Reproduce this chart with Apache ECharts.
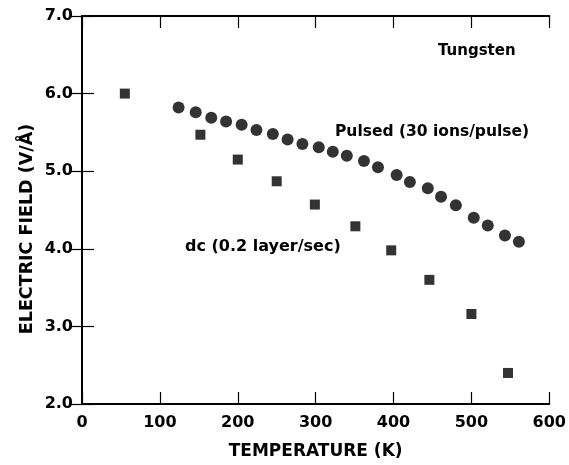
<!DOCTYPE html>
<html><head><meta charset="utf-8">
<script src="https://cdn.jsdelivr.net/npm/echarts@6/dist/echarts.min.js"></script>
<style>html,body{margin:0;padding:0;background:#fff;overflow:hidden}#c{width:569px;height:465px}</style>
</head><body><div id="c"></div>
<script>
const pulsedT = [124,146,166,185,205,224,245,264,283,304,322,340,362,380,404,421,444,461,480,503,521,543,561];
const pulsedE = [5.82,5.76,5.69,5.64,5.60,5.53,5.48,5.41,5.35,5.31,5.25,5.20,5.13,5.05,4.95,4.86,4.78,4.67,4.56,4.40,4.30,4.17,4.09];
const dcT = [55,152,200,250,299,351,397,446,500,547];
const dcE = [6.00,5.47,5.15,4.87,4.57,4.29,3.98,3.60,3.16,2.40];
const xTicks = [0,100,200,300,400,500,600];
const yTicks = ['2.0','3.0','4.0','5.0','6.0','7.0'];

const font = 'DejaVu Sans';
const ink = '#000';
const chart = echarts.init(document.getElementById('c'), null, {renderer:'canvas'});
const axLine = {show:true, lineStyle:{color:ink, width:2}};
const ticks = {show:true, inside:true, length:12, lineStyle:{color:ink, width:1.2}};
chart.setOption({
  animation:false,
  backgroundColor:'#fff',
  grid:{left:82, right:17, top:16, bottom:55, containLabel:false},
  xAxis:[{
    type:'value', min:0, max:600, interval:100, position:'bottom',
    axisLine:axLine, axisTick:ticks, splitLine:{show:false},
    axisLabel:{color:ink, fontFamily:font, fontWeight:'bold', fontSize:16, margin:11,
      formatter:v=>String(xTicks[xTicks.indexOf(v)])},
    name:'TEMPERATURE (K)', nameLocation:'middle', nameGap:39,
    nameTextStyle:{color:ink, fontFamily:font, fontWeight:'bold', fontSize:17}
  },{
    type:'value', min:0, max:600, interval:100, position:'top',
    axisLine:axLine, axisTick:ticks, axisLabel:{show:false}, splitLine:{show:false}
  }],
  yAxis:[{
    type:'value', min:2, max:7, interval:1, position:'left',
    axisLine:axLine, axisTick:ticks, splitLine:{show:false},
    axisLabel:{color:ink, fontFamily:font, fontWeight:'bold', fontSize:16, margin:9,
      formatter:v=>yTicks[Math.round(v)-2]}
  },{
    type:'value', min:2, max:7, interval:1, position:'right',
    axisLine:axLine, axisTick:ticks, axisLabel:{show:false}, splitLine:{show:false}
  }],
  series:[{
    type:'scatter', symbol:'circle', symbolSize:12,
    itemStyle:{color:ink},
    data:pulsedT.map((t,i)=>[t,pulsedE[i]])
  },{
    type:'scatter', symbol:'rect', symbolSize:10,
    itemStyle:{color:ink},
    data:dcT.map((t,i)=>[t,dcE[i]])
  }],
  graphic:[
    {type:'text', x:27, y:229, rotation:Math.PI/2,
      style:{text:'ELECTRIC FIELD (V/Å)', fill:ink, font:'bold 17.5px "DejaVu Sans"', align:'center', verticalAlign:'middle'}},
    {type:'text', left:438, top:44, style:{text:'Tungsten', fill:ink, font:'bold 15px "DejaVu Sans"'}},
    {type:'text', left:335, top:124, style:{text:'Pulsed (30 ions/pulse)', fill:ink, font:'bold 15.5px "DejaVu Sans"'}},
    {type:'text', left:185, top:239, style:{text:'dc (0.2 layer/sec)', fill:ink, font:'bold 16px "DejaVu Sans"'}}
  ]
});
</script></body></html>
